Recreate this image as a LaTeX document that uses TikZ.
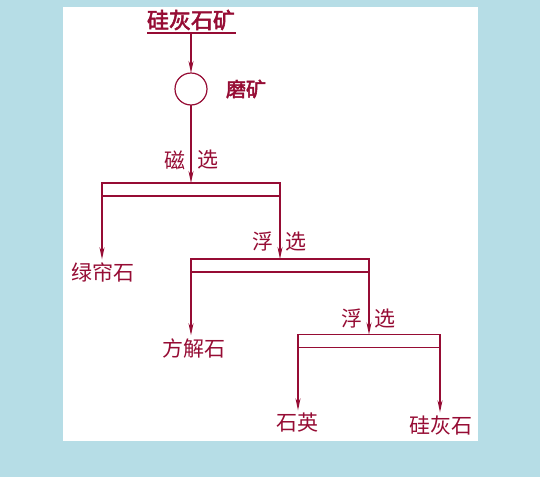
\documentclass[tikz,border=0pt]{standalone}
\usepackage{fontspec}
\newfontfamily\cjk[AutoFakeBold=2.5]{Noto Sans CJK SC}
\usetikzlibrary{arrows.meta}
\definecolor{flowred}{RGB}{150,12,52}
\definecolor{bgblue}{RGB}{182,221,230}

\begin{document}
\begin{tikzpicture}[x=1pt,y=-1pt,
  every node/.style={font=\cjk\fontsize{21}{21}\selectfont, text=flowred, inner sep=0pt, outer sep=0pt},
  flow/.style={draw=flowred, line width=1.2pt, -{Stealth[length=12pt,width=5pt]}},
  bar/.style={draw=flowred, line width=1.2pt},
  sepbox/.style={draw=flowred, line width=1.2pt, minimum height=13pt}]
\useasboundingbox (0,0) rectangle (540,477);
\fill[bgblue] (0,0) rectangle (540,477);
\fill[white] (63,7) rectangle (478,441);

\node[font=\cjk\bfseries\fontsize{22}{22}\selectfont] (ore) at (191,20) {硅灰石矿};
\coordinate (ul1) at (147,33);
\coordinate (ul2) at (236,33);
\coordinate (ulm) at (191,33);
\draw[bar] (ul1) -- (ul2);

\node[circle, draw=flowred, line width=1.2pt, minimum size=32pt] (mill) at (191,89) {};
\node[font=\cjk\bfseries\fontsize{20}{20}\selectfont] (milltxt) at (246,89) {磨矿};

\node[sepbox, minimum width=178pt] (mag) at (191,189.5) {};
\node[sepbox, minimum width=178pt] (flot1) at (280,265.5) {};
\node[sepbox, minimum width=142pt] (flot2) at (369,341) {};

\node (magl) at (175,160) {磁};
\node (magr) at (208,160) {选};
\node (f1l) at (263,242) {浮};
\node (f1r) at (296,242) {选};
\node (f2l) at (352,319) {浮};
\node (f2r) at (385,319) {选};

\node (epidote) at (103,272) {绿帘石};
\node (calcite) at (194,348) {方解石};
\node (quartz) at (297,423) {石英};
\node (wollas) at (441,425) {硅灰石};

\draw[flow] (ulm) -- (mill.north);
\draw[flow] (mill.south) -- (mag.north);
\draw[flow] (mag.south west) -- ([yshift=3pt]mag.south west |- epidote.north);
\draw[flow] (mag.south east) -- (flot1.north);
\draw[flow] (flot1.south west) -- ([yshift=3pt]flot1.south west |- calcite.north);
\draw[flow] (flot1.south east) -- (flot2.north);
\draw[flow] (flot2.south west) -- ([yshift=3pt]flot2.south west |- quartz.north);
\draw[flow] (flot2.south east) -- ([yshift=3pt]flot2.south east |- wollas.north);
\end{tikzpicture}
\end{document}
